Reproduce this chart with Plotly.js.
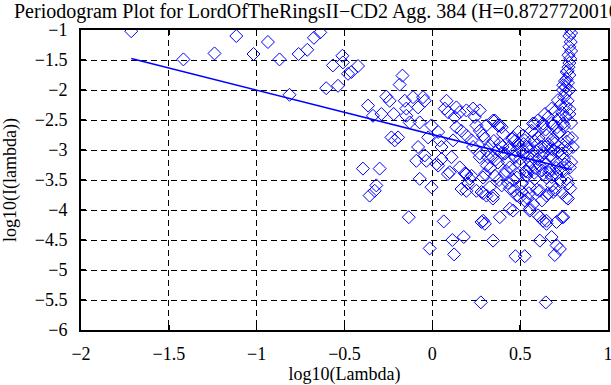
<!DOCTYPE html>
<html>
<head>
<meta charset="utf-8">
<script src="https://cdn.plot.ly/plotly-3.0.1.min.js"></script>
<style>html,body{margin:0;padding:0;background:#fff;}#chart{width:611px;height:385px;}</style>
</head>
<body>
<div id="chart"></div>
<script>
// Periodogram points: log10(Lambda)
const ptsX = [
-1.714,-1.116,-0.936,-1.417,-1.240,-1.018,-0.870,-0.761,-0.712,-0.674,-0.638,-0.813,-0.604,-0.566,-0.537,-0.512,-0.509,-0.461,-0.480,-0.423,
-0.170,-0.186,-0.366,-0.338,-0.262,-0.243,-0.290,-0.220,-0.157,-0.110,-0.148,-0.148,-0.053,-0.043,-0.081,-0.129,-0.072,-0.005,-0.233,-0.195,
-0.214,-0.081,-0.043,-0.024,0.033,0.081,0.071,0.090,0.137,0.156,0.128,0.194,0.232,0.242,0.251,0.137,0.166,0.042,0.052,0.118,
0.194,0.223,0.270,0.298,0.346,0.374,0.394,0.308,0.317,0.270,0.232,-0.395,-0.300,-0.319,-0.357,-0.091,-0.072,-0.005,-0.034,0.033,
0.089,0.052,0.109,0.156,0.194,0.223,0.203,0.166,0.308,0.251,0.024,0.099,0.185,0.213,0.280,
-0.328,-0.134,0.065,0.194,0.114,0.179,-0.015,0.124,0.346,0.276,0.646,0.473,0.526,0.612,0.679,0.707,0.697,0.726,0.289,0.299,
0.384,0.441,0.555,0.602,0.630,0.650,0.707,0.745,0.764,0.289,0.346,0.574,0.526,0.498,0.650,0.688,0.280,
0.785,0.790,0.780,0.788,0.780,0.790,0.775,0.785,0.780,0.775,0.770,0.780,0.765,0.772,0.760,0.780,0.765,0.755,0.745,
0.744,0.715,0.679,0.641,0.600,0.583,0.356,0.385,0.270,
0.760,0.750,0.770,0.730,0.760,0.700,0.740,0.780,0.660,0.720,0.760,0.680,0.630,0.710,0.750,0.790,0.780,
0.308,0.373,0.573,0.630,0.686,0.744,
0.289,0.403,0.460,0.517,0.583,0.650,0.715,0.772,
0.327,0.384,0.441,0.488,0.536,0.594,0.640,0.697,0.754,
0.270,0.345,0.413,0.470,0.517,0.573,0.624,0.681,0.738,
0.310,0.373,0.441,0.498,0.555,0.612,0.669,0.726,0.783,
0.289,0.356,0.413,0.481,0.536,0.583,0.650,0.707,0.764,
0.327,0.395,0.441,0.510,0.555,0.612,0.681,0.772,
0.345,0.481,0.543,0.624,0.772,
0.460,0.555,0.612,0.650,0.738,
0.470,0.520,0.550,0.580,0.620,0.660,0.690,0.720,0.500,0.560,0.600,0.640,0.670,0.710,0.750,0.530,0.580,0.630,0.680,0.730,0.770,0.790,0.795,0.800,0.440,0.400,0.370,0.350,0.420,0.460,0.380,0.330,0.300,
0.455,0.490,0.525,0.565,0.605,0.645,0.685,0.725,0.765,0.475,0.515,0.545,0.590,0.635,0.675,0.715,0.755,0.495,0.540,0.585,0.625,0.665,0.705,0.745,0.430,0.465,0.510,0.550,0.595,0.660,0.700,0.740,0.785,0.360,0.395,0.430
];
// Periodogram points: log10(I(lambda))
const ptsY = [
-1.02,-1.10,-1.20,-1.49,-1.39,-1.40,-1.49,-1.40,-1.33,-1.13,-1.04,-2.08,-1.97,-1.59,-1.93,-1.43,-1.54,-1.70,-1.73,-1.60,
-1.76,-1.91,-2.26,-2.43,-2.11,-2.18,-2.40,-2.40,-2.18,-2.12,-2.31,-2.43,-2.12,-2.18,-2.29,-2.54,-2.54,-2.59,-2.79,-2.79,
-2.84,-2.95,-3.09,-2.79,-2.70,-2.18,-2.31,-2.37,-2.29,-2.37,-2.45,-2.34,-2.31,-2.45,-2.59,-2.62,-2.68,-2.84,-2.95,-2.84,
-2.76,-2.84,-2.68,-2.81,-2.51,-2.59,-2.62,-3.01,-3.12,-3.12,-2.95,-3.31,-3.31,-3.59,-3.76,-3.18,-3.48,-3.62,-3.18,-3.26,
-3.40,-3.15,-3.12,-3.29,-3.40,-3.43,-3.56,-3.65,-3.76,-3.68,-3.23,-3.37,-3.39,-3.48,-3.70,
-3.68,-4.12,-4.19,-3.68,-4.50,-4.45,-4.64,-4.74,-4.51,-5.54,-5.54,-4.77,-4.77,-4.51,-4.45,-4.59,-4.75,-4.65,-4.18,-4.23,
-4.12,-3.98,-4.01,-4.09,-4.18,-4.23,-4.20,-4.12,-3.79,-3.72,-3.76,-3.90,-3.84,-3.79,-3.76,-3.70,-4.20,
-0.98,-1.05,-1.10,-1.20,-1.28,-1.35,-1.42,-1.48,-1.55,-1.62,-1.68,-1.75,-1.82,-1.88,-1.95,-2.00,-1.70,-1.85,-1.92,
-2.00,-2.17,-2.31,-2.40,-2.51,-2.56,-2.51,-2.59,-2.34,
-2.05,-2.12,-2.18,-2.25,-2.28,-2.35,-2.38,-2.32,-2.45,-2.48,-2.45,-2.55,-2.60,-2.62,-2.60,-2.55,-2.40,
-2.59,-2.59,-2.56,-2.56,-2.59,-2.56,
-2.76,-2.73,-2.79,-2.76,-2.73,-2.76,-2.73,-2.79,
-2.92,-2.89,-2.95,-2.89,-2.95,-2.92,-2.95,-2.89,-2.95,
-3.06,-3.12,-3.06,-3.12,-3.06,-3.12,-3.09,-3.12,-3.06,
-3.26,-3.21,-3.29,-3.23,-3.29,-3.26,-3.34,-3.31,-3.29,
-3.46,-3.43,-3.40,-3.46,-3.43,-3.48,-3.46,-3.40,-3.48,
-3.62,-3.59,-3.64,-3.56,-3.62,-3.68,-3.59,-3.56,
-3.81,-3.76,-3.81,-3.84,-3.81,
-4.01,-3.98,-4.12,-4.18,-4.12,
-2.85,-2.90,-2.95,-2.85,-2.95,-2.90,-3.00,-2.95,-3.15,-3.20,-3.15,-3.20,-3.10,-3.20,-3.15,-3.35,-3.38,-3.40,-3.45,-3.50,-3.00,-3.20,-2.80,-2.95,-3.00,-2.95,-3.00,-2.85,-3.35,-3.50,-3.50,-3.30,-3.40,
-2.82,-2.70,-2.84,-2.68,-2.80,-2.66,-2.82,-2.70,-2.86,-3.02,-3.00,-3.10,-3.02,-3.05,-2.98,-3.04,-3.24,-3.38,-3.36,-3.30,-3.34,-3.38,-3.30,-3.36,-3.55,-3.68,-3.70,-3.72,-3.66,-3.72,-3.66,-3.72,-3.64,-3.16,-3.05,-3.20
];
// Least-squares fit line endpoints
const fitX = [-1.714, 0.795];
const fitY = [-1.475, -3.33];

const xTicks = [-2, -1.5, -1, -0.5, 0, 0.5, 1];
const yTicks = [-6, -5.5, -5, -4.5, -4, -3.5, -3, -2.5, -2, -1.5, -1];
const fmt = v => (v < 0 ? '\u2212' : '') + String(Math.abs(v));

const FONT = 'Liberation Serif, Times New Roman, serif';

const traces = [
  {x: ptsX, y: ptsY, type: 'scatter', mode: 'markers',
   marker: {symbol: 'diamond-open', size: 10, color: '#0000ff', line: {width: 1, color: '#0000ff'}},
   hoverinfo: 'none', showlegend: false},
  {x: fitX, y: fitY, type: 'scatter', mode: 'lines',
   line: {color: '#0000ff', width: 1.5}, hoverinfo: 'none', showlegend: false}
];

const axisCommon = {
  showline: true, linecolor: '#000', linewidth: 2, mirror: 'ticks',
  ticks: 'inside', ticklen: 5, tickwidth: 1.5, tickcolor: '#000',
  showgrid: true, gridcolor: '#000', gridwidth: 1, griddash: '6px,4px',
  zeroline: false, tickfont: {family: FONT, size: 18, color: '#000'},
  tickmode: 'array', ticklabeloverflow: 'allow'
};

const layout = {
  width: 611, height: 385,
  margin: {l: 81, r: 3, t: 30, b: 55},
  paper_bgcolor: '#fff', plot_bgcolor: '#fff',
  font: {family: FONT, color: '#000'},
  title: {text: 'Periodogram Plot for LordOfTheRingsII\u2212CD2 Agg. 384 (H=0.87277200106)',
          font: {family: FONT, size: 20, color: '#000'},
          xref: 'container', yref: 'container', x: 14/611, xanchor: 'left', y: 1 - 11/385, yanchor: 'middle'},
  xaxis: Object.assign({}, axisCommon, {
    range: [-2, 1], tickvals: xTicks, ticktext: xTicks.map(fmt), ticklabelstandoff: 6,
    title: {text: 'log10(Lambda)', font: {family: FONT, size: 18, color: '#000'}, standoff: 8}
  }),
  yaxis: Object.assign({}, axisCommon, {
    range: [-6, -1], tickvals: yTicks, ticktext: yTicks.map(fmt), ticklabelstandoff: 8,
    title: {text: 'log10(I(lambda))', font: {family: FONT, size: 18, color: '#000'}, standoff: 16}
  })
};

Plotly.newPlot('chart', traces, layout, {staticPlot: true, displayModeBar: false});
</script>
</body>
</html>
